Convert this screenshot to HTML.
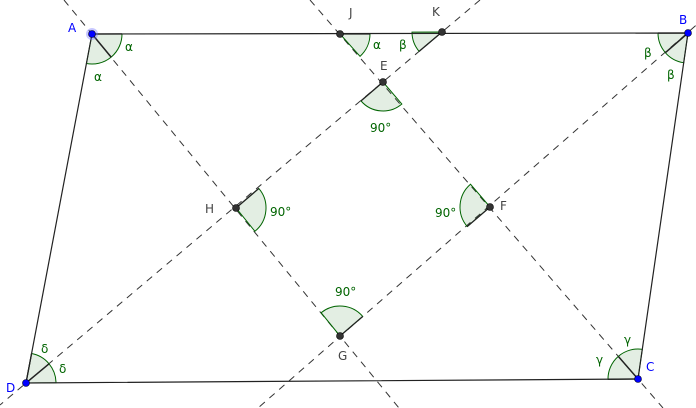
<!DOCTYPE html>
<html><head><meta charset="utf-8"><style>
html,body{margin:0;padding:0;background:#fff;}
svg{display:block;}
text{font-family:"DejaVu Sans","Liberation Sans",sans-serif;font-size:12px;}
.g{fill:#006400;}
.p{fill:#444;}
.b{fill:#0000ff;}
</style></head><body>
<svg id="s" width="696" height="408" viewBox="0 0 696 408" xmlns="http://www.w3.org/2000/svg">
<g stroke="#333" stroke-width="1" stroke-dasharray="7,6" fill="none">
<line x1="64" y1="0" x2="399" y2="408"/>
<line x1="725" y1="0" x2="258" y2="408"/>
<line x1="480" y1="0" x2="0" y2="405"/>
<line x1="310" y1="0" x2="663" y2="408"/>
</g>
<g id="w"></g>
<g stroke="#222" stroke-width="1.2" fill="none">
<polygon points="92,34 688,33 638,379 26,383"/>
</g>
<g id="pts"></g>
<text x="68" y="32" class="b">A</text>
<text x="679" y="24" class="b">B</text>
<text x="646" y="371" class="b">C</text>
<text x="6" y="392" class="b">D</text>
<text x="349" y="17" class="p">J</text>
<text x="432" y="16" class="p">K</text>
<text x="380" y="70" class="p">E</text>
<text x="205" y="213" class="p">H</text>
<text x="500" y="210" class="p">F</text>
<text x="338" y="360" class="p">G</text>
<text x="125" y="51" class="g">α</text>
<text x="94" y="81" class="g">α</text>
<text x="373" y="49" class="g">α</text>
<text x="399" y="49" class="g">β</text>
<text x="644" y="57" class="g">β</text>
<text x="667" y="79" class="g">β</text>
<text x="624" y="344" class="g">γ</text>
<text x="596" y="364" class="g">γ</text>
<text x="41" y="353" class="g">δ</text>
<text x="59" y="373" class="g">δ</text>
<text x="370" y="132" class="g">90°</text>
<text x="270" y="216" class="g">90°</text>
<text x="435" y="217" class="g">90°</text>
<text x="335" y="296" class="g">90°</text>
</svg>
<script>
var NS="http://www.w3.org/2000/svg";
function el(p,n,a){var e=document.createElementNS(NS,n);for(var k in a)e.setAttribute(k,a[k]);p.appendChild(e);return e;}
var w=document.getElementById('w');
function wedge(cx,cy,p1,p2,r,bis){
 var a1=Math.atan2(p1[1]-cy,p1[0]-cx),a2=Math.atan2(p2[1]-cy,p2[0]-cx);
 var d=a2-a1;while(d<=-Math.PI)d+=2*Math.PI;while(d>Math.PI)d-=2*Math.PI;
 var x1=cx+r*Math.cos(a1),y1=cy+r*Math.sin(a1),x2=cx+r*Math.cos(a1+d),y2=cy+r*Math.sin(a1+d);
 var sw=d>0?1:0;
 el(w,'path',{d:'M'+cx+','+cy+' L'+x1+','+y1+' A'+r+','+r+' 0 0 '+sw+' '+x2+','+y2+' Z',fill:'#006400','fill-opacity':'0.11',stroke:'#006400','stroke-width':'1'});
 el(w,'line',{x1:cx,y1:cy,x2:x1,y2:y1,stroke:'#222','stroke-width':'1.3'});
 if(bis){var am=a1+d/2;el(w,'line',{x1:cx,y1:cy,x2:cx+r*Math.cos(am),y2:cy+r*Math.sin(am),stroke:'#222','stroke-width':'1.5'});}
}
var A=[92,34],B=[688,33],C=[638,379],D=[26,383],J=[340,34],K=[442,32],E=[383,82],H=[236,208],F=[490,207],G=[340,336];
wedge(A[0],A[1],B,D,30,1);
wedge(B[0],B[1],A,C,30,1);
wedge(C[0],C[1],D,B,30,1);
wedge(D[0],D[1],A,C,30,1);
wedge(J[0],J[1],B,E,30,0);
wedge(K[0],K[1],D,A,30,0);
wedge(E[0],E[1],H,F,29,0);
wedge(H[0],H[1],E,G,30,0);
wedge(F[0],F[1],G,E,30,0);
wedge(G[0],G[1],F,H,30,0);
var pts=document.getElementById('pts');
[[A,1],[B,1],[C,1],[D,1],[J,0],[K,0],[E,0],[H,0],[F,0],[G,0]].forEach(function(q){
 var p=q[0];
 if(q[1]){ if(p===A)el(pts,'circle',{cx:p[0],cy:p[1],r:6,fill:'#6060ff','fill-opacity':'0.35'});
  el(pts,'circle',{cx:p[0],cy:p[1],r:3.5,fill:'#0000ff',stroke:'#000020','stroke-width':'0.6'});}
 else el(pts,'circle',{cx:p[0],cy:p[1],r:3.5,fill:'#333',stroke:'#000','stroke-width':'0.6'});
});
</script>
</body></html>
